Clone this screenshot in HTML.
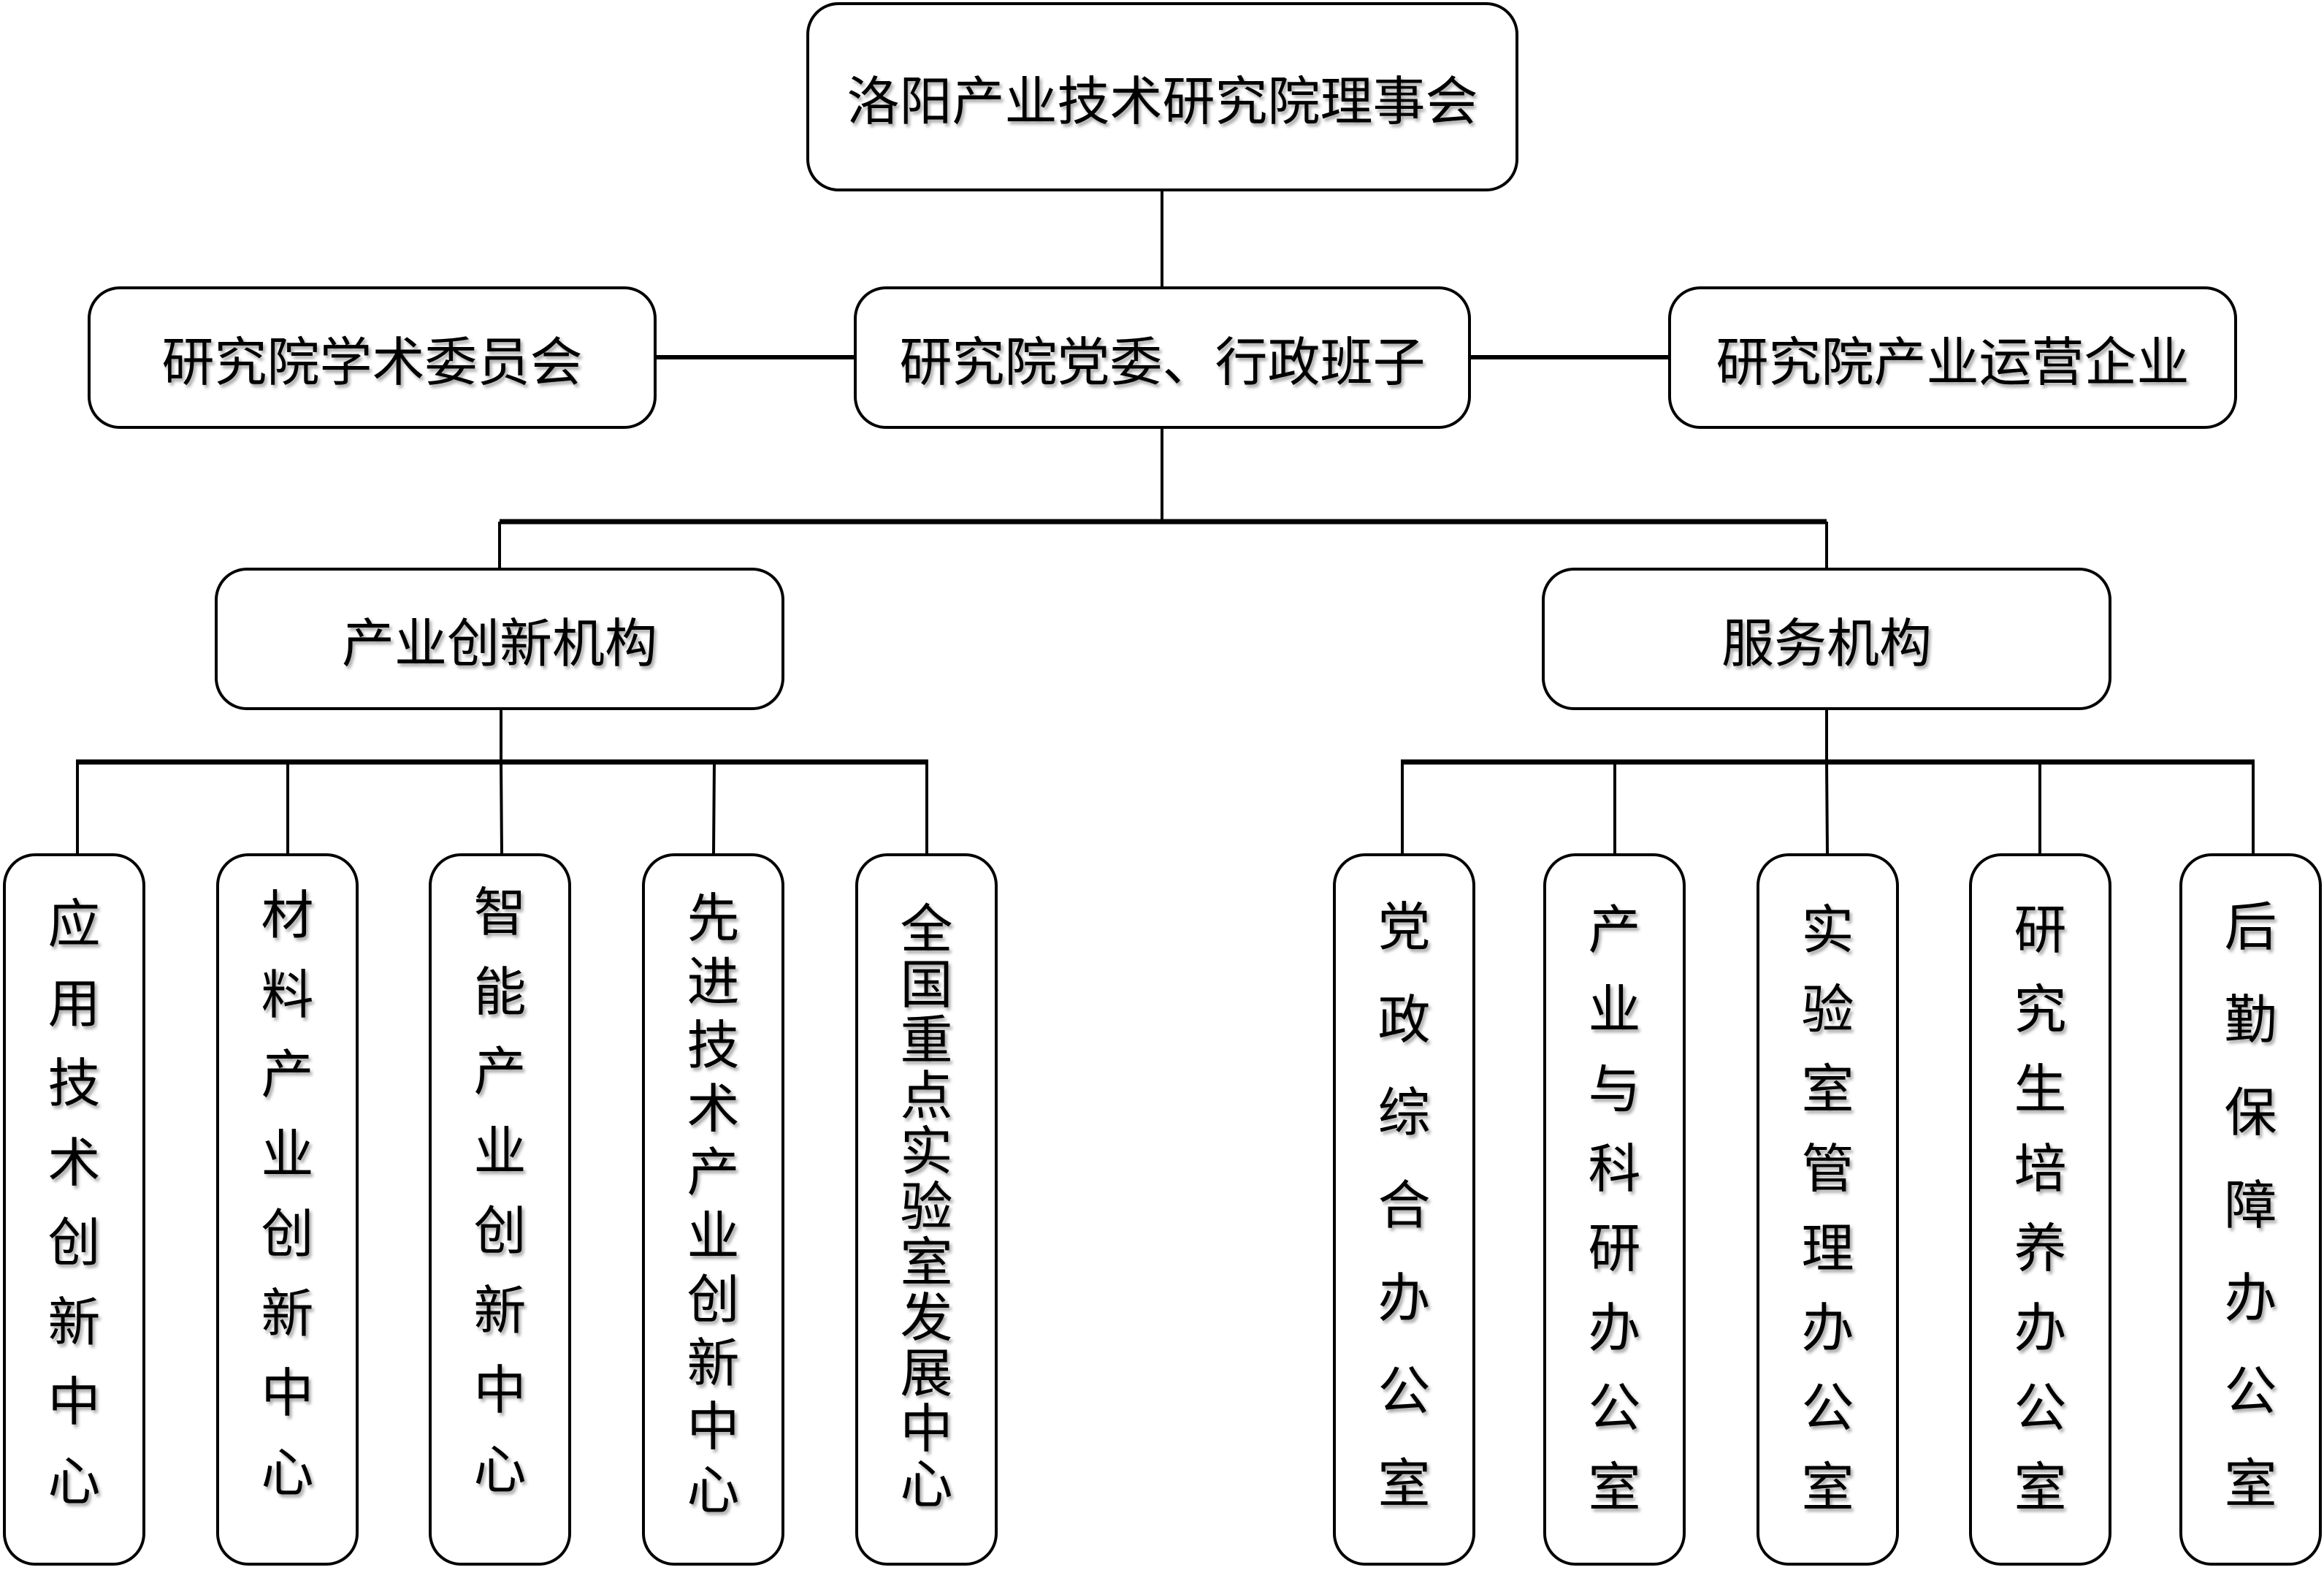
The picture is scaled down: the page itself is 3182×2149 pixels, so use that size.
<!DOCTYPE html>
<html><head><meta charset="utf-8"><style>
body{margin:0;width:3182px;height:2149px;background:#fff;position:relative;overflow:hidden;font-family:"Liberation Sans","Noto Sans CJK SC",sans-serif;}
.b{position:absolute;box-sizing:border-box;border:4.5px solid #000;border-radius:44px;background:#fff;display:flex;align-items:center;justify-content:center;font-size:72px;color:#000;text-shadow:3px 4px 4px rgba(0,0,0,0.35);white-space:nowrap;}
.v{position:absolute;box-sizing:border-box;border:4.5px solid #000;border-radius:44px;background:#fff;}
.t{position:absolute;left:0;right:0;text-align:center;font-size:72px;color:#000;text-shadow:3px 4px 4px rgba(0,0,0,0.35);}
.t span{display:block;}
svg{position:absolute;left:0;top:0;}
</style></head><body>
<svg width="3182" height="2149">
<g stroke="#000" stroke-width="4" fill="none">
<line x1="1591" y1="262" x2="1591" y2="392"/>
<line x1="899" y1="489" x2="1169" y2="489" stroke-width="6"/>
<line x1="2014" y1="489" x2="2284" y2="489" stroke-width="6"/>
<line x1="1591" y1="587" x2="1591" y2="714"/>
<line x1="684" y1="714" x2="2501" y2="714" stroke-width="7"/>
<line x1="684" y1="714" x2="684" y2="777"/>
<line x1="2501" y1="714" x2="2501" y2="777"/>
<line x1="686" y1="972" x2="686" y2="1043"/>
<line x1="2501" y1="972" x2="2501" y2="1043"/>
<line x1="104" y1="1043" x2="1271" y2="1043" stroke-width="7"/>
<line x1="1918" y1="1043" x2="3087" y2="1043" stroke-width="7"/>
<line x1="106" y1="1043" x2="106" y2="1169"/>
<line x1="394" y1="1043" x2="394" y2="1169"/>
<line x1="686" y1="1043" x2="687" y2="1169"/>
<line x1="978" y1="1043" x2="977" y2="1169"/>
<line x1="1269" y1="1043" x2="1269" y2="1169"/>
<line x1="1920" y1="1043" x2="1920" y2="1169"/>
<line x1="2211" y1="1043" x2="2211" y2="1169"/>
<line x1="2501" y1="1043" x2="2502" y2="1169"/>
<line x1="2793" y1="1043" x2="2793" y2="1169"/>
<line x1="3085" y1="1043" x2="3085" y2="1169"/>
</g></svg>

<div class="b" style="left:1104px;top:3px;width:975px;height:259px;">洛阳产业技术研究院理事会</div>
<div class="b" style="left:120px;top:392px;width:779px;height:195px;">研究院学术委员会</div>
<div class="b" style="left:1169px;top:392px;width:845px;height:195px;">研究院党委、行政班子</div>
<div class="b" style="left:2284px;top:392px;width:779px;height:195px;">研究院产业运营企业</div>
<div class="b" style="left:294px;top:777px;width:780px;height:195px;">产业创新机构</div>
<div class="b" style="left:2111px;top:777px;width:780px;height:195px;">服务机构</div>

<div class="v" style="left:4px;top:1168px;width:195px;height:975px;"></div>
<div class="t" style="left:4px;width:195px;right:auto;top:1212px;line-height:109px;"><span>应</span><span>用</span><span>技</span><span>术</span><span>创</span><span>新</span><span>中</span><span>心</span></div>
<div class="v" style="left:296px;top:1168px;width:195px;height:975px;"></div>
<div class="t" style="left:296px;width:195px;right:auto;top:1200px;line-height:109px;"><span>材</span><span>料</span><span>产</span><span>业</span><span>创</span><span>新</span><span>中</span><span>心</span></div>
<div class="v" style="left:587px;top:1168px;width:195px;height:975px;"></div>
<div class="t" style="left:587px;width:195px;right:auto;top:1196px;line-height:109px;"><span>智</span><span>能</span><span>产</span><span>业</span><span>创</span><span>新</span><span>中</span><span>心</span></div>
<div class="v" style="left:879px;top:1168px;width:195px;height:975px;"></div>
<div class="t" style="left:879px;width:195px;right:auto;top:1215px;line-height:87px;"><span>先</span><span>进</span><span>技</span><span>术</span><span>产</span><span>业</span><span>创</span><span>新</span><span>中</span><span>心</span></div>
<div class="v" style="left:1171px;top:1168px;width:195px;height:975px;"></div>
<div class="t" style="left:1171px;width:195px;right:auto;top:1235px;line-height:76px;"><span>全</span><span>国</span><span>重</span><span>点</span><span>实</span><span>验</span><span>室</span><span>发</span><span>展</span><span>中</span><span>心</span></div>

<div class="v" style="left:1825px;top:1168px;width:195px;height:975px;"></div>
<div class="t" style="left:1825px;width:195px;right:auto;top:1207px;line-height:127px;"><span>党</span><span>政</span><span>综</span><span>合</span><span>办</span><span>公</span><span>室</span></div>
<div class="v" style="left:2113px;top:1168px;width:195px;height:975px;"></div>
<div class="t" style="left:2113px;width:195px;right:auto;top:1220px;line-height:109px;"><span>产</span><span>业</span><span>与</span><span>科</span><span>研</span><span>办</span><span>公</span><span>室</span></div>
<div class="v" style="left:2405px;top:1168px;width:195px;height:975px;"></div>
<div class="t" style="left:2405px;width:195px;right:auto;top:1220px;line-height:109px;"><span>实</span><span>验</span><span>室</span><span>管</span><span>理</span><span>办</span><span>公</span><span>室</span></div>
<div class="v" style="left:2696px;top:1168px;width:195px;height:975px;"></div>
<div class="t" style="left:2696px;width:195px;right:auto;top:1220px;line-height:109px;"><span>研</span><span>究</span><span>生</span><span>培</span><span>养</span><span>办</span><span>公</span><span>室</span></div>
<div class="v" style="left:2984px;top:1168px;width:195px;height:975px;"></div>
<div class="t" style="left:2984px;width:195px;right:auto;top:1207px;line-height:127px;"><span>后</span><span>勤</span><span>保</span><span>障</span><span>办</span><span>公</span><span>室</span></div>
</body></html>
